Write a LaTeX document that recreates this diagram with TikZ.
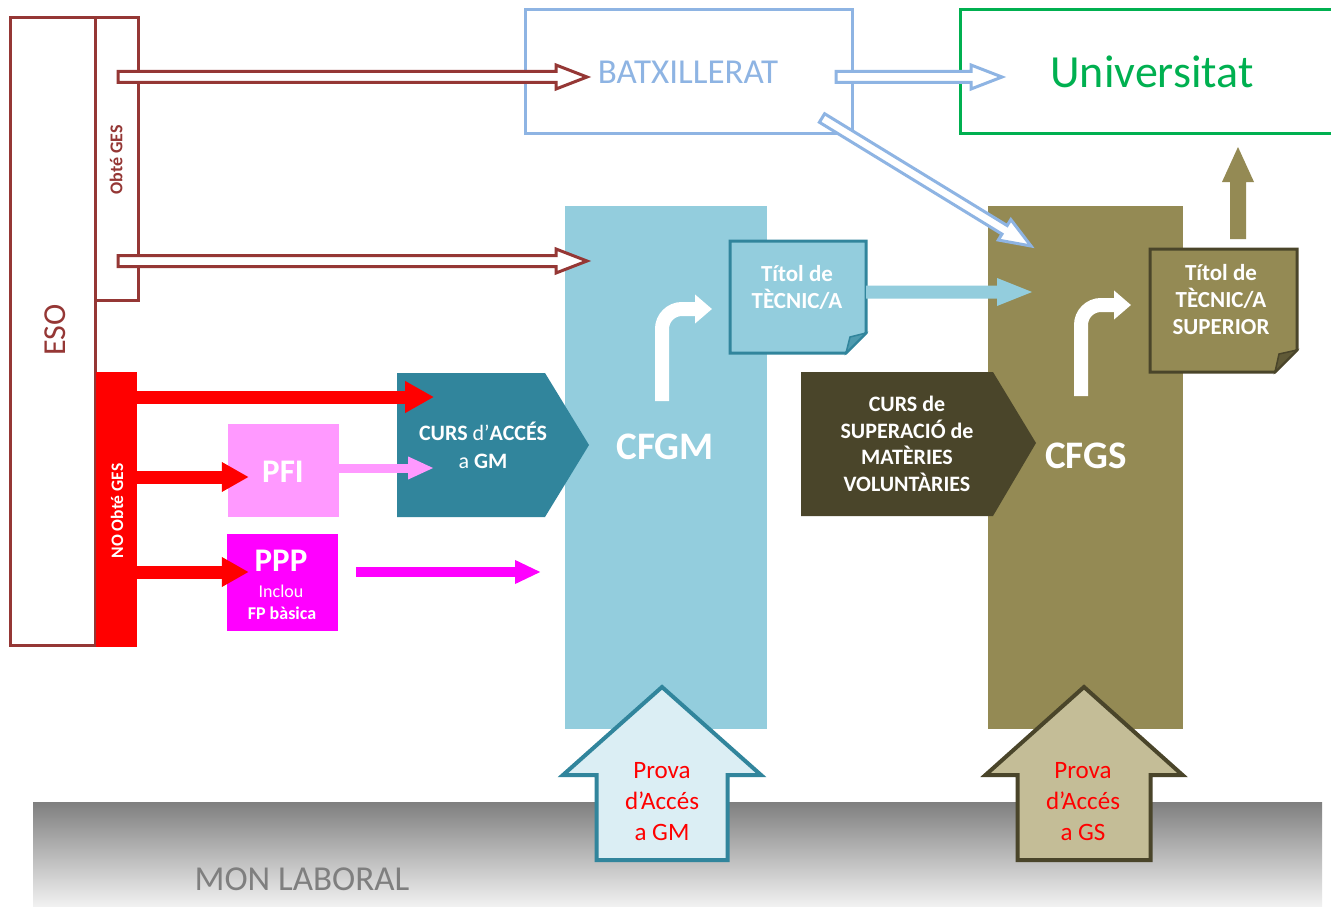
\documentclass[tikz,border=0pt]{standalone}
\usepackage{fontspec}
\setmainfont{Carlito}
\usetikzlibrary{calc,arrows.meta}
\definecolor{dred}{HTML}{953735}
\definecolor{batxc}{HTML}{8EB4E3}
\definecolor{univc}{HTML}{00B050}
\definecolor{cfgmc}{HTML}{93CDDD}
\definecolor{tealc}{HTML}{31859C}
\definecolor{olivec}{HTML}{948A54}
\definecolor{dolive}{HTML}{4A452A}
\definecolor{pfic}{HTML}{FF99FF}
\definecolor{pppc}{HTML}{FF00FF}
\definecolor{redc}{HTML}{FF0000}
\definecolor{provagm}{HTML}{DBEEF4}
\definecolor{provags}{HTML}{C4BD97}
\definecolor{monc}{HTML}{7F7F7F}
\newcommand\fsz[2]{\fontsize{#1}{#2}\selectfont}
% #1 style, #2 from, #3 to, #4 shaft half width, #5 head half width, #6 head length
\newcommand\blockarrow[6]{%
  \path[#1] let \p1=(#2), \p2=(#3), \n1={atan2(\y2-\y1,\x2-\x1)},
    \n2={\n1+90}, \n3={\n1-90}, \n4={\n1+180} in
    ($(#2)+(\n2:#4)$) -- ($(#3)+(\n4:#6)+(\n2:#4)$) -- ($(#3)+(\n4:#6)+(\n2:#5)$)
    -- (#3) -- ($(#3)+(\n4:#6)+(\n3:#5)$) -- ($(#3)+(\n4:#6)+(\n3:#4)$)
    -- ($(#2)+(\n3:#4)$) -- cycle;}
\begin{document}
\begin{tikzpicture}[x=1pt,y=-1pt,
  every node/.style={inner sep=0pt, align=center},
  hollowred/.style={draw=dred, fill=white, line width=3pt, line join=miter},
  hollowblue/.style={draw=batxc, fill=white, line width=3pt, line join=miter},
  redarrow/.style={draw=redc, line width=13pt, -{Triangle[length=29pt,width=30pt]}},
  whitebend/.style={draw=white, line width=14pt, rounded corners=20pt, -{Triangle[length=17pt,width=28pt]}},
  wtext/.style={text=white, font=\bfseries\fsz{23}{27}}]
\clip (0,0) rectangle (1331,907);
\fill[white] (0,0) rectangle (1331,907);

% ground
\shade[top color=monc, bottom color=black!5] (33,802) rectangle (1322,907);
\node[text=monc, font=\fsz{35}{40}] (mon) at (302,879) {MON LABORAL};

% columns
\node[fill=cfgmc, minimum width=202pt, minimum height=523pt] (cfgm) at (666,467.5) {};
\node[fill=olivec, minimum width=195pt, minimum height=523pt] (cfgs) at (1085.5,467.5) {};
\node[text=white, font=\bfseries\fsz{39}{44}] (cfgmt) at (665,447) {CFGM};
\node[text=white, font=\bfseries\fsz{39}{44}] (cfgst) at (1086,456) {CFGS};

% ESO
\node[draw=dred, line width=3pt, minimum width=85pt, minimum height=627pt] (eso) at (52.5,331.5) {};
\node[rotate=90, text=dred, font=\fsz{32}{38}] (esot) at (55,330) {ESO};
\node[draw=dred, line width=3pt, minimum width=43pt, minimum height=282pt] (ges) at (116.5,159) {};
\node[rotate=90, text=dred, font=\bfseries\fsz{18}{21}] (gest) at (116,160) {Obté GES};
\node[fill=redc, minimum width=41pt, minimum height=275pt] (nobar) at (116.5,509.5) {};
\node[rotate=90, text=white, font=\bfseries\fsz{17.5}{20}] (nobart) at (117,511) {NO Obté GES};

% top boxes
\node[draw=batxc, line width=3pt, minimum width=327pt, minimum height=123pt] (batx) at (688.5,71.5) {};
\node[text=batxc, font=\fsz{35}{40}] (batxt) at (688,72) {BATXILLERAT};
\node[draw=univc, line width=3pt, minimum width=390pt, minimum height=123pt] (univ) at (1155,71.5) {};
\node[text=univc, font=\fsz{46}{52}] (univt) at (1152,72) {Universitat};

% hollow arrows
\coordinate (h1s) at (118,77);  \coordinate (h1e) at (587,77);
\coordinate (h2s) at (118,261); \coordinate (h2e) at (587,261);
\blockarrow{hollowred}{h1s}{h1e}{5.5pt}{12pt}{31pt}
\blockarrow{hollowred}{h2s}{h2e}{5.5pt}{12pt}{31pt}
\coordinate (h3s) at (836,77);  \coordinate (h3e) at (1002,77);
\blockarrow{hollowblue}{h3s}{h3e}{5.5pt}{12pt}{31pt}
\coordinate (h4s) at (822,118); \coordinate (h4e) at (1031,246);
\blockarrow{hollowblue}{h4s}{h4e}{5pt}{12pt}{31pt}

% Titol GM
\filldraw[fill=cfgmc, draw=tealc, line width=3pt, line join=miter]
  (730,241) -- (866,241) -- (866,333) -- (846,353) -- (730,353) -- cycle;
\filldraw[fill=tealc!70!cfgmc, draw=tealc, line width=1.5pt] (866,333) -- (846,353) -- (850,337) -- cycle;
\node[wtext, minimum width=136pt, minimum height=112pt] (titgm) at (798,297) {};
\node[wtext] (titgmt) at (797,287) {Títol de\\TÈCNIC/A};

% Titol SUP
\filldraw[fill=olivec, draw=dolive, line width=3pt, line join=miter]
  (1150,249) -- (1297,249) -- (1297,350) -- (1275,372) -- (1150,372) -- cycle;
\filldraw[fill=dolive!70!olivec, draw=dolive, line width=1.5pt] (1297,350) -- (1275,372) -- (1279,354) -- cycle;
\node[minimum width=147pt, minimum height=123pt] (titsup) at (1223.5,310.5) {};
\node[wtext] (titsupt) at (1221,300) {Títol de\\TÈCNIC/A\\SUPERIOR};

% arrow Titol GM -> CFGS
\coordinate (b1e) at (1032,292);
\blockarrow{fill=cfgmc}{titgm.east |- b1e}{b1e}{6.5pt}{14pt}{35pt}
% arrow up to Universitat
\coordinate (u1s) at (1238,239); \coordinate (u1e) at (1238,147);
\blockarrow{fill=olivec}{u1s}{u1e}{8pt}{16pt}{35pt}

% bent white arrows
\draw[whitebend] (662,401) -- (662,309) -- (712,309);
\draw[whitebend] (1081,396) -- (1081,305) -- (1131,305);

% CURS d'ACCES chevron
\fill[tealc] (397,373) -- (545,373) -- (589,445) -- (545,517) -- (397,517) -- cycle;
\node[text=white, font=\fsz{22}{28}] (cursgm) at (483,445) {\textbf{CURS} d’\textbf{ACCÉS}\\a \textbf{GM}};

% CURS SUPERACIO chevron
\fill[dolive] (801,372) -- (993,372) -- (1036,443) -- (993,516) -- (801,516) -- cycle;
\node[wtext, font=\bfseries\fsz{22}{26.7}] (curssup) at (907,444) {CURS de\\SUPERACIÓ de\\MATÈRIES\\VOLUNTÀRIES};

% PFI / PPP
\node[fill=pfic, minimum width=111pt, minimum height=93pt] (pfi) at (283.5,470.5) {};
\node[text=white, font=\bfseries\fsz{33}{36}] (pfit) at (283,472) {PFI};
\node[fill=pppc, minimum width=111pt, minimum height=97pt] (ppp) at (282.5,582.5) {};
\node[text=white, font=\bfseries\fsz{33}{36}] (pppt) at (281,561) {PPP};
\node[text=white, font=\fsz{18}{22}] (pppi) at (281,591) {Inclou};
\node[text=white, font=\bfseries\fsz{18}{22}] (pppf) at (282,613) {FP bàsica};

% red arrows
\coordinate (r1e) at (434,397);
\draw[redarrow] (nobar.east |- r1e) -- (r1e);
\draw[redarrow, -{Triangle[length=27pt,width=28pt]}] (nobar.east |- 0,477) -- (pfi.west |- 0,477) -- ++(21,0);
\draw[redarrow, -{Triangle[length=27pt,width=28pt]}] (nobar.east |- 0,572) -- (ppp.west |- 0,572) -- ++(22,0);
% pink arrows
\coordinate (p1e) at (434,468);
\draw[draw=pfic, line width=9pt, -{Triangle[length=26pt,width=21pt]}] (pfi.east |- p1e) -- (p1e);
\coordinate (m1s) at (356,572); \coordinate (m1e) at (541,572);
\draw[draw=pppc, line width=10pt, -{Triangle[length=26pt,width=22pt]}] (m1s) -- (m1e);

% Prova arrows
\coordinate (pg1) at (662,860); \coordinate (pg2) at (662,687);
\blockarrow{fill=provagm, draw=tealc, line width=4pt, line join=miter}{pg1}{pg2}{65.5pt}{99pt}{88pt}
\node[text=redc, font=\fsz{25}{31}] (provagmt) at (662,802) {Prova\\d’Accés\\a GM};
\coordinate (ps1) at (1084,860); \coordinate (ps2) at (1084,687);
\blockarrow{fill=provags, draw=dolive, line width=4pt, line join=miter}{ps1}{ps2}{66.5pt}{98.5pt}{88pt}
\node[text=redc, font=\fsz{25}{31}] (provagst) at (1083,802) {Prova\\d’Accés\\a GS};
\end{tikzpicture}
\end{document}
